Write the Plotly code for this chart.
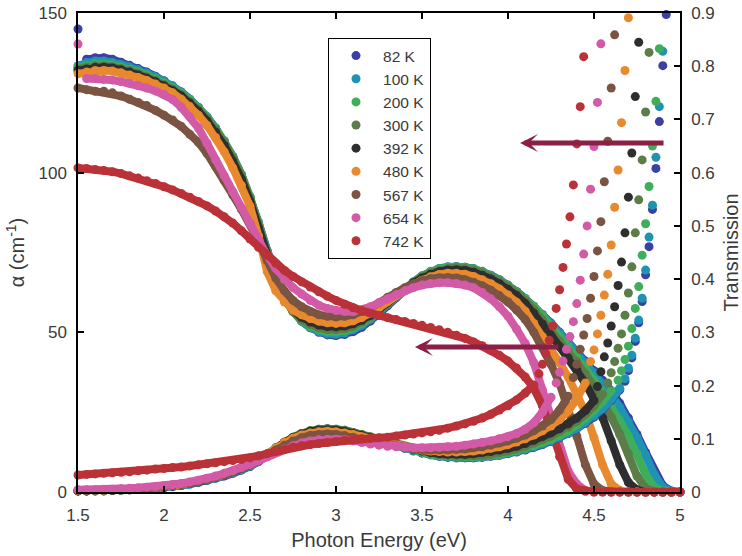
import plotly.graph_objects as go

# Photon-energy grid of the dense part of every scan (eV)
energy = [
    1.50, 1.55, 1.60, 1.65, 1.70, 1.75, 1.80, 1.85, 1.90, 1.95,
    2.00, 2.05, 2.10, 2.15, 2.20, 2.25, 2.30, 2.35, 2.40, 2.45,
    2.50, 2.55, 2.60, 2.65, 2.70, 2.75, 2.80, 2.85, 2.90, 2.95,
    3.00, 3.05, 3.10, 3.15, 3.20, 3.25, 3.30, 3.35, 3.40, 3.45,
    3.50, 3.55, 3.60, 3.65, 3.70, 3.75, 3.80, 3.85, 3.90, 3.95,
    4.00, 4.05, 4.10, 4.15, 4.20, 4.25, 4.30, 4.35, 4.40, 4.45,
    4.50, 4.55, 4.60, 4.65, 4.70, 4.75, 4.80, 4.85, 4.90, 4.95,
    5.00,
]

temps = ["82 K", "100 K", "200 K", "300 K", "392 K", "480 K", "567 K", "654 K", "742 K"]
colors = ["#3b3fa6", "#1f93b3", "#3fae5a", "#5c7c48", "#2e2e2e",
          "#e8892e", "#7b5442", "#d35aa6", "#bb3138"]

# Absorption coefficient alpha (cm^-1) on the energy grid
alpha_82 = [
    None, 135.5, 136.0, 136.0, 135.5, 134.6, 133.6, 132.6, 131.5, 130.2,
    128.8, 127.2, 125.3, 123.0, 120.4, 117.4, 113.9, 109.9, 105.0, 99.3,
    92.3, 84.2, 75.5, 67.5, 61.2, 56.7, 53.5, 51.4, 50.0, 49.2,
    49.0, 49.3, 50.2, 51.6, 53.5, 55.8, 58.3, 60.9, 63.4, 65.7,
    67.6, 69.0, 69.9, 70.4, 70.6, 70.4, 69.9, 69.1, 67.9, 66.5,
    64.8, 62.8, 60.6, 58.2, 55.6, 52.9, 50.0, 47.0, 44.0, 41.0,
    38.0, 35.0, 31.7, 27.8, 23.2, 18.0, 12.4, 6.5, 2.0, 0.3,
    0.0,
]
alpha_100 = [
    133.5, 134.5, 135.0, 135.0, 134.6, 133.9, 133.1, 132.2, 131.2, 130.0,
    128.6, 127.1, 125.3, 123.0, 120.5, 117.5, 114.0, 110.0, 105.1, 99.4,
    92.5, 84.4, 75.6, 67.5, 61.1, 56.6, 53.5, 51.5, 50.2, 49.5,
    49.4, 49.8, 50.8, 52.2, 54.1, 56.3, 58.7, 61.2, 63.6, 65.8,
    67.7, 69.1, 70.0, 70.5, 70.6, 70.4, 69.9, 69.0, 67.8, 66.4,
    64.6, 62.6, 60.4, 58.0, 55.4, 52.7, 49.7, 46.7, 43.6, 40.5,
    37.3, 34.0, 30.5, 26.5, 22.0, 17.0, 11.5, 5.5, 1.5, 0.2,
    0.0,
]
alpha_200 = [
    133.0, 133.5, 134.0, 134.0, 133.7, 133.1, 132.4, 131.5, 130.5, 129.4,
    128.1, 126.6, 124.9, 122.8, 120.3, 117.4, 114.0, 109.9, 105.0, 99.5,
    92.5, 84.0, 75.0, 67.0, 60.8, 56.5, 53.7, 51.9, 50.8, 50.2,
    50.1, 50.5, 51.4, 52.8, 54.6, 56.7, 59.0, 61.4, 63.7, 65.8,
    67.6, 69.0, 69.9, 70.4, 70.5, 70.3, 69.8, 68.9, 67.7, 66.3,
    64.6, 62.7, 60.6, 58.2, 55.3, 52.1, 48.8, 45.5, 42.0, 38.5,
    35.0, 31.0, 27.0, 22.3, 17.5, 12.0, 5.5, 1.5, 0.3, 0.0,
    0.0,
]
alpha_300 = [
    132.5, 133.0, 133.5, 133.5, 133.2, 132.6, 131.9, 131.0, 130.0, 128.9,
    127.6, 126.1, 124.4, 122.3, 119.8, 116.9, 113.5, 109.4, 104.5, 99.0,
    92.0, 83.5, 74.5, 66.5, 60.5, 56.5, 54.0, 52.4, 51.4, 50.9,
    50.8, 51.1, 51.9, 53.2, 54.9, 56.9, 59.1, 61.4, 63.6, 65.6,
    67.3, 68.6, 69.5, 70.0, 70.2, 70.0, 69.5, 68.6, 67.4, 66.0,
    64.3, 62.3, 60.0, 57.1, 53.9, 50.6, 47.3, 44.1, 40.8, 37.0,
    33.0, 28.5, 23.5, 18.0, 12.0, 5.0, 1.2, 0.2, 0.0, 0.0,
    0.0,
]
alpha_392 = [
    132.0, 132.5, 133.0, 133.0, 132.8, 132.2, 131.5, 130.6, 129.6, 128.5,
    127.2, 125.7, 124.0, 121.8, 119.2, 116.2, 112.7, 108.5, 103.5, 98.0,
    91.0, 82.5, 73.5, 66.0, 60.5, 57.0, 54.7, 53.2, 52.3, 51.8,
    51.7, 52.0, 52.7, 53.8, 55.3, 57.2, 59.3, 61.5, 63.6, 65.5,
    67.0, 68.2, 69.0, 69.5, 69.6, 69.4, 68.8, 67.9, 66.7, 65.2,
    63.5, 61.5, 59.0, 56.0, 52.6, 49.1, 45.5, 42.0, 38.3, 34.0,
    29.0, 23.3, 16.0, 8.5, 3.0, 0.7, 0.0, 0.0, 0.0, 0.0,
    0.0,
]
alpha_480 = [
    131.0, 131.5, 132.0, 132.0, 131.8, 131.3, 130.6, 129.8, 128.9, 127.8,
    126.5, 125.0, 123.0, 120.7, 118.0, 114.8, 111.0, 106.5, 101.5, 96.0,
    89.5, 80.0, 69.0, 63.0, 59.5, 57.0, 55.5, 54.3, 53.5, 53.0,
    52.8, 53.0, 53.6, 54.6, 56.0, 57.7, 59.6, 61.5, 63.3, 64.9,
    66.3, 67.4, 68.1, 68.5, 68.5, 68.2, 67.5, 66.5, 65.2, 63.6,
    61.7, 59.4, 56.6, 52.8, 48.6, 44.5, 40.5, 36.0, 31.0, 25.0,
    17.0, 8.5, 2.5, 0.5, 0.0, 0.0, 0.0, 0.0, 0.0, 0.0,
    0.0,
]
alpha_567 = [
    126.5, 126.0, 125.5, 125.5, 125.0, 124.0, 123.0, 122.0, 121.0, 119.5,
    118.0, 116.5, 114.5, 112.0, 109.5, 106.0, 102.0, 97.5, 93.0, 88.5,
    84.0, 78.5, 72.5, 67.0, 63.0, 60.0, 58.0, 56.5, 55.5, 55.0,
    54.8, 55.0, 55.5, 56.5, 57.8, 59.3, 61.0, 62.5, 64.0, 65.2,
    66.2, 66.8, 67.1, 67.2, 67.0, 66.5, 65.7, 64.6, 63.2, 61.5,
    59.5, 57.0, 54.0, 50.0, 45.5, 40.0, 34.0, 26.5, 17.5, 8.5,
    2.5, 0.5, 0.0, 0.0, 0.0, 0.0, 0.0, 0.0, 0.0, 0.0,
    0.0,
]
alpha_654 = [
    None, 129.5, 129.5, 129.2, 129.0, 128.5, 128.0, 127.3, 126.5, 125.6,
    124.5, 122.9, 120.5, 117.5, 114.0, 109.2, 104.0, 99.0, 94.0, 89.0,
    84.0, 79.0, 74.0, 70.0, 66.5, 64.0, 62.0, 60.0, 58.5, 57.5,
    56.8, 56.5, 56.5, 57.0, 58.0, 59.2, 60.5, 61.8, 63.0, 64.0,
    64.8, 65.3, 65.5, 65.5, 65.3, 64.8, 64.0, 62.5, 60.5, 58.0,
    55.0, 51.0, 46.5, 40.5, 32.0, 22.0, 13.0, 6.5, 2.5, 0.5,
    0.0, 0.0, 0.0, 0.0, 0.0, 0.0, 0.0, 0.0, 0.0, 0.0,
    0.0,
]
alpha_742 = [
    101.5, 101.3, 101.0, 100.7, 100.3, 99.7, 99.0, 98.3, 97.5, 96.6,
    95.6, 94.6, 93.5, 92.3, 91.0, 89.6, 88.0, 86.2, 84.2, 81.8,
    79.2, 76.6, 74.0, 71.6, 69.4, 67.5, 65.8, 64.2, 62.7, 61.3,
    60.0, 58.8, 57.7, 56.8, 56.0, 55.3, 54.6, 54.0, 53.4, 52.8,
    52.2, 51.5, 50.8, 50.0, 49.1, 48.1, 47.0, 45.8, 44.4, 42.8,
    41.0, 38.8, 36.0, 32.5, 27.0, 19.5, 11.0, 4.0, 1.0, 0.2,
    0.0, 0.0, 0.0, 0.0, 0.0, 0.0, 0.0, 0.0, 0.0, 0.0,
    0.0,
]

# First reading of two scans, well above the rest of the curve (alpha at 1.50 eV)
first_reading = {"82 K": 145.0, "654 K": 140.3}

# Transmission on the energy grid, up to the start of the absorption edge
trans_82 = [
    .002, .002, .002, .002, .003, .003, .004, .005, .006, .007,
    .008, .010, .012, .015, .018, .022, .026, .030, .035, .041,
    .048, .057, .068, .080, .091, .101, .108, .113, .116, .117,
    .116, .114, .111, .107, .102, .097, .092, .087, .082, .077,
    .073, .070, .067, .065, .064, .064, .064, .065, .067, .069,
    .072, .075, .079, .084, .089, .095, .102, .110, .119, .129,
    .141, .155, .172, .192,
]
trans_100 = [
    .002, .002, .002, .002, .003, .003, .004, .005, .006, .007,
    .008, .010, .012, .015, .018, .022, .026, .031, .036, .042,
    .049, .058, .069, .081, .092, .102, .109, .114, .117, .118,
    .117, .115, .111, .107, .102, .097, .092, .087, .082, .078,
    .074, .070, .068, .066, .065, .065, .065, .066, .068, .070,
    .073, .076, .080, .085, .090, .096, .103, .111, .120, .131,
    .143, .157, .174, .195,
]
trans_200 = [
    .002, .002, .002, .002, .003, .003, .004, .005, .006, .007,
    .009, .011, .013, .016, .019, .023, .027, .032, .037, .043,
    .050, .059, .070, .082, .093, .103, .110, .115, .118, .119,
    .118, .116, .112, .108, .103, .098, .093, .088, .083, .079,
    .075, .071, .069, .067, .066, .066, .066, .067, .069, .071,
    .074, .078, .082, .087, .093, .099, .106, .115, .126, .138,
    .153, .170, .190,
]
trans_300 = [
    .002, .002, .002, .003, .003, .004, .004, .005, .006, .008,
    .009, .011, .013, .016, .019, .023, .027, .032, .038, .044,
    .051, .060, .071, .083, .094, .103, .110, .115, .118, .119,
    .118, .116, .112, .108, .104, .099, .094, .089, .085, .081,
    .077, .073, .071, .069, .068, .068, .068, .069, .071, .074,
    .077, .081, .086, .092, .098, .105, .113, .122, .133, .146,
    .162, .184,
]
trans_392 = [
    .002, .002, .003, .003, .003, .004, .005, .005, .006, .008,
    .009, .011, .013, .016, .019, .023, .027, .032, .038, .044,
    .051, .060, .071, .083, .093, .102, .109, .114, .116, .117,
    .116, .114, .110, .106, .102, .097, .093, .088, .084, .080,
    .077, .074, .072, .071, .071, .071, .072, .074, .076, .079,
    .082, .086, .091, .097, .104, .111, .119, .128, .139, .153,
    .172,
]
trans_480 = [
    .003, .003, .003, .003, .004, .004, .005, .006, .007, .008,
    .010, .012, .014, .017, .020, .024, .028, .033, .039, .045,
    .052, .061, .072, .083, .093, .101, .107, .111, .113, .114,
    .113, .111, .108, .104, .100, .096, .092, .088, .084, .081,
    .079, .077, .076, .075, .075, .076, .077, .079, .082, .085,
    .089, .094, .100, .107, .115, .124, .136, .152, .175, .205,
]
trans_567 = [
    .003, .003, .003, .004, .004, .005, .005, .006, .007, .009,
    .010, .012, .014, .017, .020, .024, .028, .033, .038, .044,
    .051, .059, .069, .079, .088, .096, .102, .106, .108, .109,
    .108, .106, .103, .099, .095, .092, .089, .086, .083, .081,
    .080, .079, .079, .079, .080, .081, .083, .085, .088, .092,
    .096, .101, .107, .115, .124, .136, .154, .180,
]
trans_654 = [
    .004, .004, .004, .005, .005, .006, .007, .008, .009, .010,
    .012, .014, .016, .019, .022, .026, .030, .035, .040, .046,
    .052, .059, .066, .074, .081, .087, .092, .096, .098, .099,
    .099, .098, .096, .093, .090, .088, .086, .085, .084, .083,
    .083, .083, .084, .085, .086, .088, .090, .093, .096, .100,
    .104, .110, .118, .130, .150, .178,
]
trans_742 = [
    .032, .033, .034, .035, .036, .037, .038, .040, .041, .043,
    .044, .046, .047, .049, .051, .053, .055, .057, .059, .061,
    .064, .068, .072, .076, .080, .084, .087, .089, .091, .093,
    .095, .097, .098, .100, .101, .102, .103, .105, .107, .109,
    .111, .113, .116, .120, .124, .128, .133, .139, .146, .154,
    .162, .173, .186, .201,
]

# Steep rise of the transmission at the edge, sampled every 0.02 eV
edge_e_82 = [4.68, 4.70, 4.72, 4.74, 4.76, 4.78, 4.80, 4.82, 4.84, 4.86, 4.88, 4.90, 4.92]
edge_t_82 = [.208, .228, .252, .283, .318, .358, .408, .461, .531, .608, .696, .801, .897]
edge_e_100 = [4.68, 4.70, 4.72, 4.74, 4.76, 4.78, 4.80, 4.82, 4.84, 4.86, 4.88, 4.90]
edge_t_100 = [.213, .233, .257, .289, .323, .364, .417, .479, .539, .629, .724, .828]
edge_e_200 = [4.64, 4.66, 4.68, 4.70, 4.72, 4.74, 4.76, 4.78, 4.80, 4.82, 4.84, 4.86, 4.88]
edge_t_200 = [.210, .228, .249, .274, .307, .345, .386, .445, .504, .574, .650, .734, .833]
edge_e_300 = [4.58, 4.60, 4.62, 4.64, 4.66, 4.68, 4.70, 4.72, 4.74, 4.76, 4.78, 4.80, 4.82]
edge_t_300 = [.205, .224, .245, .270, .297, .332, .374, .423, .487, .549, .624, .714, .826]
edge_e_392 = [4.52, 4.54, 4.56, 4.58, 4.60, 4.62, 4.64, 4.66, 4.68, 4.70, 4.72, 4.74, 4.76]
edge_t_392 = [.198, .226, .254, .280, .312, .348, .388, .432, .487, .554, .637, .743, .845]
edge_e_480 = [4.48, 4.50, 4.52, 4.54, 4.56, 4.58, 4.60, 4.62, 4.64, 4.66, 4.68, 4.70]
edge_t_480 = [.245, .267, .297, .332, .370, .409, .464, .535, .605, .694, .792, .891]
edge_e_567 = [4.38, 4.40, 4.42, 4.44, 4.46, 4.48, 4.50, 4.52, 4.54, 4.56, 4.58, 4.60, 4.62]
edge_t_567 = [.215, .240, .268, .295, .326, .364, .405, .453, .508, .583, .659, .759, .859]
edge_e_654 = [4.28, 4.30, 4.32, 4.34, 4.36, 4.38, 4.40, 4.42, 4.44, 4.46, 4.48, 4.50, 4.52, 4.54]
edge_t_654 = [.205, .225, .246, .268, .292, .320, .354, .398, .447, .500, .569, .649, .732, .842]
edge_e_742 = [4.18, 4.20, 4.22, 4.24, 4.26, 4.28, 4.30, 4.32, 4.34, 4.36, 4.38, 4.40, 4.42, 4.44]
edge_t_742 = [.222, .240, .260, .285, .312, .345, .380, .422, .466, .517, .577, .654, .724, .818]

alphas = [alpha_82, alpha_100, alpha_200, alpha_300, alpha_392,
          alpha_480, alpha_567, alpha_654, alpha_742]
transmissions = [trans_82, trans_100, trans_200, trans_300, trans_392,
                 trans_480, trans_567, trans_654, trans_742]
edge_energies = [edge_e_82, edge_e_100, edge_e_200, edge_e_300, edge_e_392,
                 edge_e_480, edge_e_567, edge_e_654, edge_e_742]
edge_trans = [edge_t_82, edge_t_100, edge_t_200, edge_t_300, edge_t_392,
              edge_t_480, edge_t_567, edge_t_654, edge_t_742]

# Arrows: (tail energy, head energy, alpha level)
arrows = [(4.913, 4.070, 109.3), (4.302, 3.459, 45.4)]

FONT = "Liberation Sans, Arial, Helvetica, sans-serif"
TEXT = "#3a3a3a"
DOT = 9
BAND = 8

fig = go.Figure()
for name, color, a, t, ee, et in zip(temps, colors, alphas, transmissions,
                                     edge_energies, edge_trans):
    dense = dict(mode="lines+markers", line=dict(color=color, width=BAND),
                 marker=dict(color=color, size=DOT, line=dict(width=0)),
                 legendgroup=name, showlegend=False, cliponaxis=False,
                 hoverinfo="skip")
    fig.add_trace(go.Scatter(x=energy[:len(a)], y=a, yaxis="y", **dense))
    if name in first_reading:
        fig.add_trace(go.Scatter(
            x=[energy[0]], y=[first_reading[name]], yaxis="y", mode="markers",
            marker=dict(color=color, size=DOT, line=dict(width=0)),
            legendgroup=name, showlegend=False, cliponaxis=False,
            hoverinfo="skip"))
    fig.add_trace(go.Scatter(x=energy[:len(t)], y=t, yaxis="y2", **dense))
    fig.add_trace(go.Scatter(
        x=ee, y=et, yaxis="y2", mode="markers", name=name,
        marker=dict(color=color, size=DOT, line=dict(width=0)),
        legendgroup=name, showlegend=True, cliponaxis=False,
        hoverinfo="skip"))

for tail, head, level in arrows:
    fig.add_annotation(
        x=head, y=level, ax=tail, ay=level, xref="x", yref="y",
        axref="x", ayref="y", text="", showarrow=True,
        arrowhead=3, arrowsize=0.6, arrowwidth=5, arrowcolor="#8c1f45")

axis_common = dict(
    showline=True, linecolor="black", linewidth=1.5, ticks="inside",
    ticklen=6, tickwidth=1.5, tickcolor="black", showgrid=False,
    zeroline=False, automargin=False,
    tickfont=dict(family=FONT, size=17, color=TEXT),
)
TITLE_SIZE = 20

fig.update_layout(
    template="none",
    width=742, height=556,
    margin=dict(l=78, r=62, t=13, b=64),
    paper_bgcolor="white", plot_bgcolor="white",
    font=dict(family=FONT, color=TEXT),
    xaxis=dict(range=[1.5, 5.0], tickvals=[1.5, 2, 2.5, 3, 3.5, 4, 4.5, 5],
               mirror="ticks", ticklabelstandoff=7,
               title=dict(text="Photon Energy (eV)",
                          font=dict(family=FONT, size=TITLE_SIZE, color=TEXT),
                          standoff=9),
               **axis_common),
    yaxis=dict(range=[0, 150], tickvals=[0, 50, 100, 150],
               ticklabelstandoff=6,
               title=dict(text="α (cm<sup>-1</sup>)",
                          font=dict(family=FONT, size=TITLE_SIZE, color=TEXT),
                          standoff=8),
               **axis_common),
    yaxis2=dict(range=[0, 0.9], overlaying="y", side="right",
                tickvals=[0, 0.1, 0.2, 0.3, 0.4, 0.5, 0.6, 0.7, 0.8, 0.9],
                ticklabelstandoff=6,
                title=dict(text="Transmission",
                           font=dict(family=FONT, size=TITLE_SIZE, color=TEXT),
                           standoff=13),
                **axis_common),
    legend=dict(x=0.4153, y=0.9478, xanchor="left", yanchor="top",
                bgcolor="white", bordercolor="black", borderwidth=1,
                font=dict(family=FONT, size=15.5, color=TEXT),
                tracegroupgap=0, itemwidth=44),
    showlegend=True,
)

fig.write_html("out.html")
